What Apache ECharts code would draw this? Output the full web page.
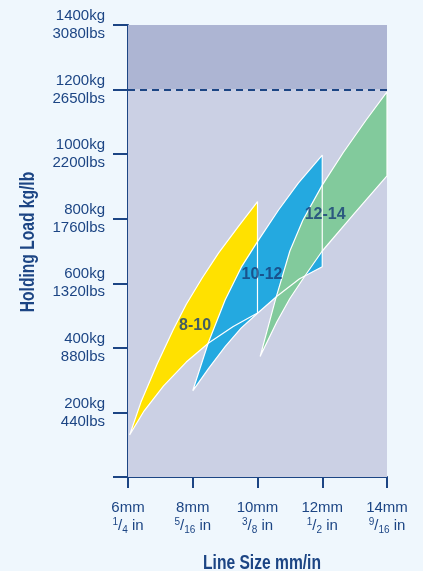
<!DOCTYPE html>
<html>
<head>
<meta charset="utf-8">
<title>Holding Load by Line Size</title>
<script src="https://cdn.jsdelivr.net/npm/echarts@6/dist/echarts.min.js"></script>
<style>
  html, body { margin: 0; padding: 0; background: #eff7fd; }
  #chart { width: 423px; height: 571px; }
</style>
</head>
<body>
<div id="chart"></div>
<script>
// axis ticks
const sizeTicks = [6, 8, 10, 12, 14];
const mmLabels = ['6mm', '8mm', '10mm', '12mm', '14mm'];
const inchNum = ['1', '5', '3', '1', '9'];
const inchDen = ['4', '16', '8', '2', '16'];
const kgTicks = [0, 200, 400, 600, 800, 1000, 1200, 1400];
const lbsLabels = ['', '440lbs', '880lbs', '1320lbs', '1760lbs', '2200lbs', '2650lbs', '3080lbs'];
const safeLimit = 1200;
const loadMax = 1400;

// band outlines: [line size mm, holding load kg]
const upper8to10 = [[6.05, 130], [6.4, 232], [6.9, 350], [7.4, 457], [7.8, 535], [8.3, 618], [8.8, 694], [9.4, 775], [10, 853]];
const lower8to10 = [[6.05, 130], [6.5, 205], [7.1, 282], [7.8, 356], [8.5, 416], [9.25, 466], [10, 508]];
const upper10to12 = [[8.0, 267], [8.48, 416], [9.0, 548], [9.5, 650], [10, 729], [10.65, 827], [11.26, 910], [12, 997]];
const lower10to12 = [[8.0, 267], [8.48, 335], [9.0, 404], [9.5, 462], [10, 507], [10.6, 560], [11.3, 614], [12, 651]];
const upper12to14 = [[10.08, 373], [10.55, 548], [11.0, 700], [11.4, 795], [12, 904], [12.65, 1005], [13.35, 1105], [14, 1193]];
const lower12to14 = [[10.08, 373], [10.6, 481], [11.0, 553], [11.5, 628], [12, 700], [13, 817], [14, 933]];

const bandNames = ['8-10', '10-12', '12-14'];
const bandLabelAt = [[8.07, 468], [10.14, 626], [12.09, 814]];

const navy = '#1c4584';
const tickFont = '"Liberation Sans", Arial, sans-serif';

function outline(upper, lower) {
  return upper.concat(lower.slice().reverse());
}

const bands = [
  { name: bandNames[0], pts: outline(upper8to10, lower8to10), color: '#ffe100' },
  { name: bandNames[1], pts: outline(upper10to12, lower10to12), color: '#24a9e0' },
  { name: bandNames[2], pts: outline(upper12to14, lower12to14), color: '#82ca9c' }
];

const chart = echarts.init(document.getElementById('chart'));

const series = [];

// background areas + safe working load line
series.push({
  type: 'line',
  data: [],
  z: 1,
  silent: true,
  markArea: {
    silent: true,
    label: { show: false },
    data: [
      [{ yAxis: 0, itemStyle: { color: '#cbd0e4' } }, { yAxis: safeLimit }],
      [{ yAxis: safeLimit, itemStyle: { color: '#adb5d3' } }, { yAxis: loadMax }]
    ]
  },
  markLine: {
    silent: true,
    symbol: 'none',
    label: { show: false },
    lineStyle: { color: navy, width: 2, type: [7, 5] },
    data: [{ yAxis: safeLimit }]
  }
});

// band fills
bands.forEach(b => {
  series.push({
    type: 'custom',
    name: b.name,
    z: 2,
    silent: true,
    clip: true,
    data: [0],
    renderItem: (params, api) => ({
      type: 'polygon',
      shape: { points: b.pts.map(p => api.coord(p)) },
      style: { fill: b.color }
    })
  });
});

// white outlines on top
bands.forEach(b => {
  series.push({
    type: 'line',
    z: 3,
    silent: true,
    symbol: 'none',
    lineStyle: { color: '#ffffff', width: 1.2 },
    data: b.pts.concat([b.pts[0]])
  });
});

// band labels
series.push({
  type: 'scatter',
  z: 4,
  silent: true,
  symbolSize: 0,
  data: bandLabelAt.map((p, i) => ({ value: p, name: bandNames[i] })),
  label: {
    show: true, position: 'inside', formatter: '{b}',
    color: '#163d78', fontFamily: tickFont, fontWeight: 'bold', fontSize: 16,
    textBorderWidth: 0
  }
});

chart.setOption({
  backgroundColor: '#eff7fd',
  animation: false,
  grid: { left: 128, right: 36, top: 25, bottom: 94 },
  graphic: [
    {
      type: 'text', x: 143, y: 123, scaleX: 0.69, silent: true,
      style: { text: 'Safe Working Load', fill: navy, font: '18px ' + tickFont, align: 'left', verticalAlign: 'middle' }
    },
    {
      type: 'text', x: 262, y: 563, scaleX: 0.78, silent: true,
      style: { text: 'Line Size mm/in', fill: navy, font: 'bold 20px ' + tickFont, align: 'center', verticalAlign: 'middle' }
    },
    {
      type: 'text', x: 28, y: 242, rotation: Math.PI / 2, scaleX: 0.78, silent: true,
      style: { text: 'Holding Load kg/lb', fill: navy, font: 'bold 20px ' + tickFont, align: 'center', verticalAlign: 'middle' }
    }
  ],
  xAxis: {
    type: 'value',
    min: 6, max: 14, interval: 2,
    axisLine: { lineStyle: { color: navy, width: 2 } },
    axisTick: { length: 11, lineStyle: { color: navy, width: 2 } },
    splitLine: { show: false },
    axisLabel: {
      margin: 22,
      color: navy,
      fontFamily: tickFont,
      fontSize: 15,
      lineHeight: 18,
      formatter: v => {
        const i = sizeTicks.indexOf(v);
        return mmLabels[i] + '\n{n|' + inchNum[i] + '}/{d|' + inchDen[i] + '} in';
      },
      rich: {
        n: { fontSize: 10, fontFamily: tickFont, color: navy, verticalAlign: 'top', lineHeight: 18 },
        d: { fontSize: 10, fontFamily: tickFont, color: navy, verticalAlign: 'bottom', lineHeight: 18 }
      }
    }
  },
  yAxis: {
    type: 'value',
    min: 0, max: loadMax, interval: 200,
    axisLine: { show: true, lineStyle: { color: navy, width: 2 } },
    axisTick: { show: true, length: 15, lineStyle: { color: navy, width: 2 } },
    splitLine: { show: false },
    axisLabel: {
      margin: 23,
      color: navy,
      fontFamily: tickFont,
      fontSize: 15,
      lineHeight: 18,
      formatter: v => {
        const i = kgTicks.indexOf(v);
        return i <= 0 ? '' : v + 'kg\n' + lbsLabels[i];
      }
    }
  },
  series: series
});
</script>
</body>
</html>
